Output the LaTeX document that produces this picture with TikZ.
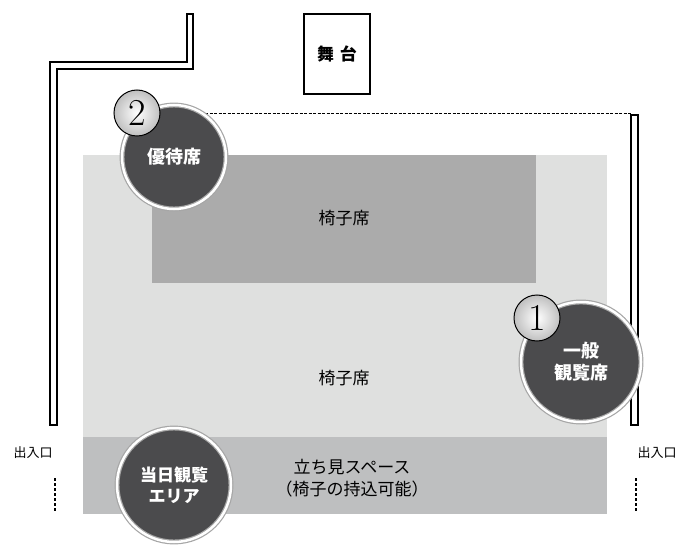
\documentclass[tikz,border=0pt]{standalone}
\usepackage{fontspec}
\newfontfamily\jp{Noto Sans CJK JP}
\definecolor{lg}{HTML}{DFE0DF}
\definecolor{dg}{HTML}{ABABAB}
\definecolor{bg}{HTML}{BEBFC0}
\definecolor{cc}{HTML}{4B4B4D}
\tikzset{x=1pt,y=-1pt,
 badge/.style={circle,draw=gray!70,line width=1.2pt,fill=cc,text=white,font=\jp\bfseries\fontsize{18}{22}\selectfont,align=center,inner sep=0pt,double=white,double distance=2.5pt},
 num/.style={circle,draw=black,line width=1pt,shade,inner color=white,outer color=gray!50,minimum size=46pt,inner sep=0pt,font=\fontsize{38}{38}\selectfont},
 lab/.style={font=\jp\fontsize{17}{20}\selectfont},
 wall/.style={draw=black,line width=1.2pt,fill=white}}
\begin{document}
\begin{tikzpicture}
\useasboundingbox (0,0) rectangle (690,553);
\fill[lg] (83,155) rectangle (607,437);
\fill[dg] (152,155) rectangle (536,283);
\fill[bg] (83,437) rectangle (607,514);
\draw[wall] (50,425)--(50,62)--(187,62)--(187,14)--(193,14)--(193,69)--(57,69)--(57,425)--cycle;
\draw[wall] (631,115) rectangle (638,425);
\node[draw=black,line width=1.5pt,minimum width=66pt,minimum height=80pt,font=\jp\bfseries\fontsize{17}{20}\selectfont] (stage) at (337,54) {舞\hspace{6pt}台};
\coordinate (d1) at (205,113); \coordinate (d2) at (631,113);
\draw[dashed,line width=0.8pt,dash pattern=on 3pt off 1.5pt] (d1)--(d2);
\node[lab] (s1) at (344,218) {椅子席};
\node[lab] (s2) at (344,378) {椅子席};
\node[lab,align=center] (s3) at (352,478) {立ち見スペース\\[2pt]（椅子の持込可能）};
\node[badge,minimum size=104pt] (b2) at (174,157) {優待席};
\node[badge,minimum size=120pt] (b1) at (581,362) {一般\\観覧席};
\node[badge,minimum size=114pt,font=\jp\bfseries\fontsize{17}{21}\selectfont] (b3) at (174,485) {当日観覧\\エリア};
\node[num] (n2) at (137,113) {2};
\node[num] (n1) at (537,318) {1};
\node[lab,font=\jp\fontsize{13}{15}\selectfont] (e1) at (33,453) {出入口};
\node[lab,font=\jp\fontsize{13}{15}\selectfont] (e2) at (657,453) {出入口};
\coordinate (l1) at (55,478); \coordinate (l2) at (55,512);
\coordinate (r1) at (636,478); \coordinate (r2) at (636,512);
\draw[dashed,line width=1.2pt,dash pattern=on 3pt off 2pt] (l1)--(l2);
\draw[dashed,line width=1.2pt,dash pattern=on 3pt off 2pt] (r1)--(r2);
\end{tikzpicture}
\end{document}
